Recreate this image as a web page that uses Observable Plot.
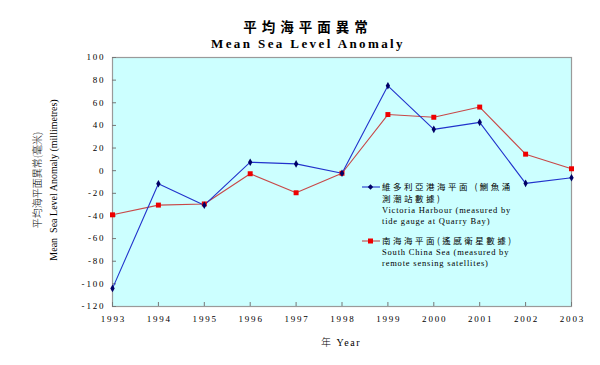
<!DOCTYPE html>
<html>
<head>
<meta charset="utf-8">
<script src="https://cdn.jsdelivr.net/npm/d3@7"></script>
<script src="https://cdn.jsdelivr.net/npm/@observablehq/plot@0.6"></script>
<style>
  body { margin: 0; background: #fff; }
  #wrap { position: relative; width: 600px; height: 365px; font-family: "Liberation Serif", "Times New Roman", "Noto Sans CJK TC", serif; color: #000; }
  .abs { position: absolute; white-space: nowrap; }
  .t1 { left: 8px; width: 600px; top: 16px; text-align: center; font-size: 13.5px; font-weight: 600; letter-spacing: 5px; font-family: "Noto Sans CJK TC", sans-serif; }
  .t2 { left: 8px; width: 600px; top: 36px; text-align: center; font-size: 13px; font-weight: bold; letter-spacing: 2.4px; }
  .yl { transform: translate(-50%, -50%) rotate(-90deg); font-size: 10px; }
  .xl { left: 341px; top: 334px; transform: translateX(-50%); font-size: 10px; letter-spacing: 1.5px; }
  .leg { font-size: 8.5px; line-height: 11px; letter-spacing: 0.8px; }
  .leg .zh { font-family: "Noto Sans CJK TC", sans-serif; letter-spacing: 2.5px; font-size: 8.5px; }
  .sw { position: absolute; }
</style>
</head>
<body>
<div id="wrap"></div>
<script>
const years = [1993, 1994, 1995, 1996, 1997, 1998, 1999, 2000, 2001, 2002, 2003];
const victoriaHarbour = [-104, -11.5, -30.5, 7.5, 6, -2.3, 75, 36.5, 42.7, -11.2, -6.3];
const southChinaSea = [-39, -30.4, -29.4, -2.7, -19.5, -2.3, 49.6, 47.2, 56.2, 14.6, 1.7];
const yTicks = [-120, -100, -80, -60, -40, -20, 0, 20, 40, 60, 80, 100];
const seriesNames = ["維多利亞港海平面 (鰂魚涌測潮站數據) Victoria Harbour (measured by tide gauge at Quarry Bay)", "南海海平面(遙感衛星數據) South China Sea (measured by remote sensing satellites)"];

const vh = years.map((y, i) => ({year: y, value: victoriaHarbour[i]}));
const scs = years.map((y, i) => ({year: y, value: southChinaSea[i]}));

const spaced = s => String(s).split("").join("\u2009");

const chart = Plot.plot({
  width: 600,
  height: 365,
  marginLeft: 112,
  marginRight: 29,
  marginTop: 57,
  marginBottom: 59,
  style: {fontFamily: '"Liberation Serif", "Times New Roman", serif', fontSize: "9px", background: "transparent", color: "#000"},
  x: {domain: [1993, 2003], ticks: years},
  y: {domain: [-120, 100], ticks: yTicks},
  marks: [
    Plot.frame({fill: "#ccffff", stroke: "#9a9a9a", strokeWidth: 1.2}),
    Plot.tickY(yTicks, {y: d => d, stroke: "#777", insetRight: 455}),
    Plot.tickX(years, {x: d => d, stroke: "#777", insetTop: 245}),
    Plot.axisY({ticks: yTicks, tickSize: 0, tickPadding: 9, tickFormat: d => spaced(d), label: null, fontSize: 9}),
    Plot.axisX({ticks: years, tickSize: 0, tickPadding: 9, tickFormat: d => spaced(d), label: null, fontSize: 9}),
    Plot.line(scs, {x: "year", y: "value", stroke: "#c84848", strokeWidth: 1.1}),
    Plot.line(vh, {x: "year", y: "value", stroke: "#2233cc", strokeWidth: 1.1}),
    Plot.dot(scs, {x: "year", y: "value", symbol: "square", r: 2.8, fill: "#ee0000", stroke: "none"}),
    Plot.dot(vh, {x: "year", y: "value", symbol: "diamond", r: 2.3, fill: "#000066", stroke: "none"})
  ]
});

const wrap = document.getElementById("wrap");
wrap.appendChild(chart);
chart.style.position = "absolute";
chart.style.left = "0";
chart.style.top = "0";

function add(cls, html, style) {
  const d = document.createElement("div");
  d.className = "abs " + cls;
  d.innerHTML = html;
  if (style) Object.assign(d.style, style);
  wrap.appendChild(d);
  return d;
}
add("t1", "平均海平面異常");
add("t2", "Mean Sea Level Anomaly");
add("yl", '<span style="font-family:\'Noto Sans CJK TC\',sans-serif;font-size:10px;font-weight:300">平均海平面異常(毫米)</span>', {left: "36px", top: "180px"});
add("yl", "Mean&nbsp; Sea Level Anomaly (millimetres)", {left: "53px", top: "180px"});
add("xl", '<span style="font-family:\'Noto Sans CJK TC\',sans-serif;font-weight:300">年</span>&nbsp;Year');

// legend
add("leg", '<span class="zh">維多利亞港海平面 (鰂魚涌</span><br><span class="zh">測潮站數據)</span><br>Victoria Harbour (measured by<br>tide gauge at Quarry Bay)', {left: "382px", top: "181px"});
add("leg", '<span class="zh">南海海平面(遙感衛星數據)</span><br>South China Sea (measured by<br>remote sensing satellites)', {left: "382px", top: "235px"});
function swatch(top, color, markColor, shape) {
  const s = document.createElementNS("http://www.w3.org/2000/svg", "svg");
  s.setAttribute("width", 20); s.setAttribute("height", 8);
  s.setAttribute("class", "sw");
  s.style.left = "361px"; s.style.top = top + "px";
  const mark = shape === "square"
    ? `<rect x="7" y="1.5" width="5" height="5" fill="${markColor}"/>`
    : `<path d="M9.5,1.3 L12.2,4 L9.5,6.7 L6.8,4 Z" fill="${markColor}"/>`;
  s.innerHTML = `<line x1="1" x2="19" y1="4" y2="4" stroke="${color}" stroke-width="1.1"/>` + mark;
  wrap.appendChild(s);
}
swatch(183, "#2233cc", "#000066", "diamond");
swatch(237, "#c84848", "#ee0000", "square");
</script>
</body>
</html>
